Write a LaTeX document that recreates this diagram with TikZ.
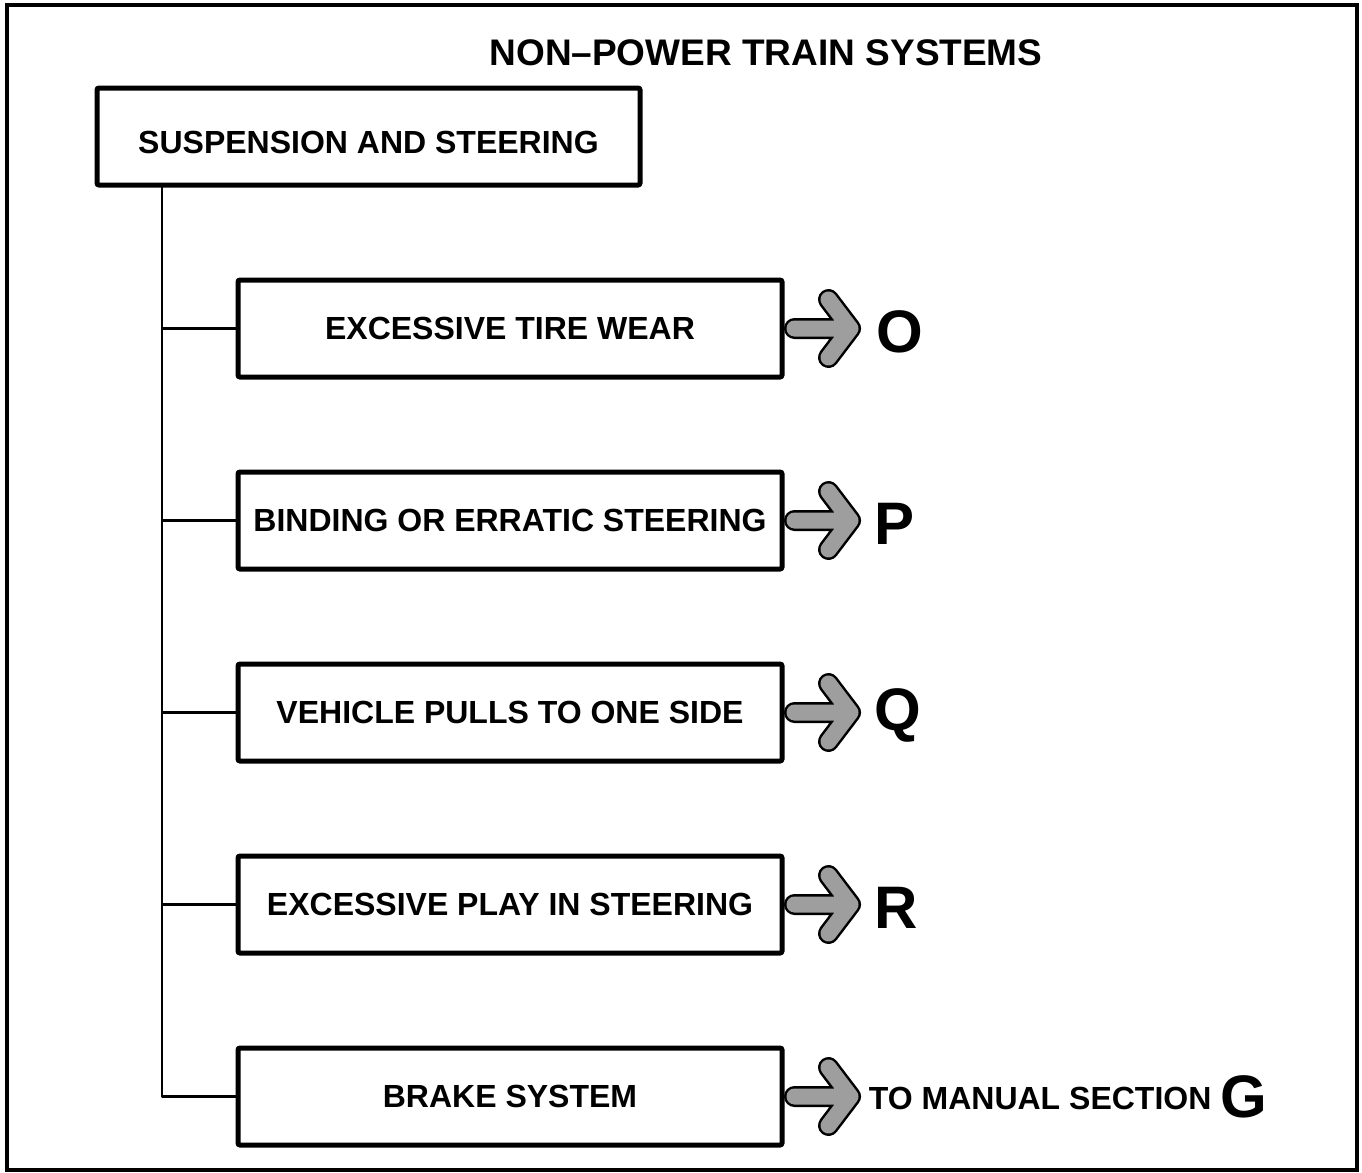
\documentclass[tikz,border=0pt]{standalone}
\usepackage{fontspec}
\setmainfont{Liberation Sans}
\usetikzlibrary{positioning, calc}

\tikzset{
  scatola/.style={draw, line width=2.5pt, rounded corners=1pt, minimum width=272pt, minimum height=48.5pt, inner sep=0pt, font=\fontsize{16}{19}\selectfont\bfseries},
  ramo/.style={line width=1.4pt},
  lettera/.style={inner sep=0pt, font=\fontsize{30}{34}\selectfont\bfseries},
  freccia/.pic={
    \draw[line width=10.5pt, line cap=round, line join=round] (10,0) -- (66,0) (44,29) -- (66,0) -- (44,-29);
    \draw[black!38, line width=8pt, line cap=round, line join=round] (10,0) -- (66,0) (44,29) -- (66,0) -- (44,-29);
  }
}

\begin{document}
\begin{tikzpicture}[x=0.5pt, y=-0.5pt]
        \useasboundingbox (0,0) rectangle (1362,1173);
        % cornice esterna
        \draw[line width=2pt] (7,5) rectangle (1357,1170);
        % titolo
        \node[font=\fontsize{18.5}{22}\selectfont\bfseries] (titolo) at (766,53) {NON--POWER TRAIN SYSTEMS};
        % scatola principale
        \node[scatola, minimum width=271.5pt, text height=17pt, text depth=0pt] (sosp) at (368.5,136.5) {SUSPENSION AND STEERING};
        % scatole dei sintomi
        \node[scatola] (b1) at (510,328.5) {EXCESSIVE TIRE WEAR};
        \node[scatola] (b2) at (510,520.5) {BINDING OR ERRATIC STEERING};
        \node[scatola] (b3) at (510,712.5) {VEHICLE PULLS TO ONE SIDE};
        \node[scatola] (b4) at (510,904.5) {EXCESSIVE PLAY IN STEERING};
        \node[scatola] (b5) at (510,1096.5) {BRAKE SYSTEM};
        % tronco e rami
        \coordinate (tronco) at (162,185);
        \draw[ramo, line join=round] (tronco) |- (b5.west);
        \foreach \b in {b1,b2,b3,b4}
          \draw[ramo] (tronco |- \b.west) -- (\b.west);
        % frecce
        \foreach \b in {b1,b2,b3,b4,b5}
          \pic at (\b.east) {freccia};
        % lettere
        \node[lettera, anchor=west] (lO) at ($(b1.east)+(92,3)$) {O};
        \node[lettera, anchor=west] (lP) at ($(b2.east)+(90,3)$) {P};
        \node[lettera, anchor=west] (lQ) at ($(b3.east)+(90,3)$) {Q};
        \node[lettera, anchor=west] (lR) at ($(b4.east)+(90,3)$) {R};
        \node[anchor=west, inner sep=0pt, font=\fontsize{16}{19}\selectfont\bfseries] (manuale) at ($(b5.east)+(84,2)$) {TO MANUAL SECTION};
        \node[lettera, right=4pt of manuale, yshift=1pt] (lG) {G};
\end{tikzpicture}
\end{document}
